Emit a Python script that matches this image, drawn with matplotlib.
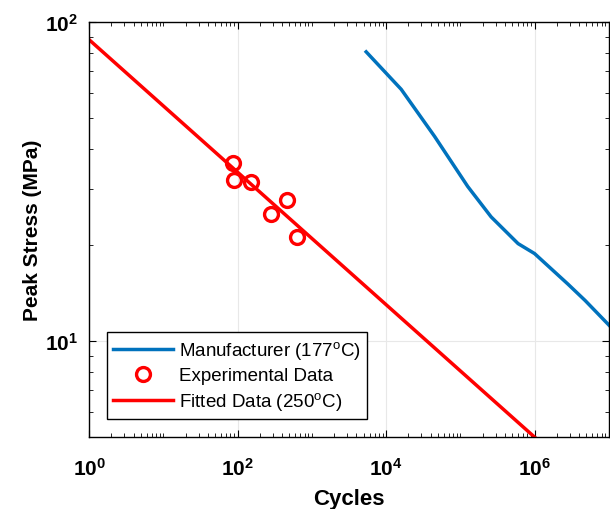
import numpy as np
import matplotlib.pyplot as plt
from matplotlib.ticker import LogLocator, NullFormatter, FixedLocator

plt.rcParams['font.family'] = ['Liberation Sans', 'DejaVu Sans']
plt.rcParams['mathtext.fontset'] = 'custom'
plt.rcParams['mathtext.bf'] = 'Liberation Sans:bold'
plt.rcParams['mathtext.rm'] = 'Liberation Sans'

# manufacturer curve (177C)
man_cycles = [5400, 1.6e4, 4.5e4, 1.26e5, 2.6e5, 6.0e5, 1.0e6, 2.8e6, 4.8e6, 1.05e7]
man_stress = [80.6, 61.5, 43.8, 30.5, 24.5, 20.2, 18.8, 15.1, 13.4, 11.1]

# experimental points
exp_cycles = [88, 89, 150, 285, 460, 640]
exp_stress = [36.2, 32.0, 31.6, 25.0, 27.6, 21.2]

# fitted line (250C)
fit_cycles = [1, 1e6]
fit_stress = [88.0, 5.0]

xticks = [1e0, 1e2, 1e4, 1e6]
yticks = [1e1, 1e2]

blue = '#0072BD'
red = '#FF0000'

fig = plt.figure(figsize=(6.1, 5.1), dpi=100)
ax = fig.add_axes([0.146, 0.141, 0.852, 0.814])

ax.loglog(man_cycles, man_stress, color=blue, lw=2.5, label='Manufacturer (177$^{\\mathrm{o}}$C)')
ax.loglog(exp_cycles, exp_stress, 'o', ms=10, mfc='none', mec=red, mew=2.4, label='Experimental Data')
ax.loglog(fit_cycles, fit_stress, color=red, lw=2.5, label='Fitted Data (250$^{\\mathrm{o}}$C)')

ax.set_xlim(1, 1e7)
ax.set_ylim(5, 100)
fmt = plt.FuncFormatter(lambda v, p: '$\\mathbf{10^{%d}}$' % round(np.log10(v)))
ax.xaxis.set_major_locator(FixedLocator(xticks))
ax.xaxis.set_major_formatter(fmt)
ax.xaxis.set_minor_locator(LogLocator(base=10, subs=np.arange(1, 10), numticks=20))
ax.xaxis.set_minor_formatter(NullFormatter())
ax.yaxis.set_major_locator(FixedLocator(yticks))
ax.yaxis.set_major_formatter(fmt)
ax.yaxis.set_minor_formatter(NullFormatter())

ax.grid(True, which='major', color='#e8e8e8', lw=0.8)
ax.tick_params(which='both', direction='in', top=True, right=True)
ax.tick_params(which='major', length=5, labelsize=15)
ax.tick_params(axis='x', which='major', pad=14)
ax.tick_params(axis='y', which='major', pad=8)
ax.tick_params(which='minor', length=3)
for s in ax.spines.values():
    s.set_linewidth(1.0)

ax.set_xlabel('Cycles', fontsize=16, fontweight='bold', labelpad=7)
ax.set_ylabel('Peak Stress (MPa)', fontsize=15, fontweight='bold', labelpad=2)

leg = ax.legend(loc='lower left', bbox_to_anchor=(0.034, 0.043), fontsize=13.5,
                frameon=True, fancybox=False, edgecolor='black', framealpha=1,
                handlelength=3.2, borderaxespad=0, handletextpad=0.3,
                labelspacing=0.3, borderpad=0.35)
leg.get_frame().set_linewidth(1.0)

fig.savefig('out.png', dpi=100)
